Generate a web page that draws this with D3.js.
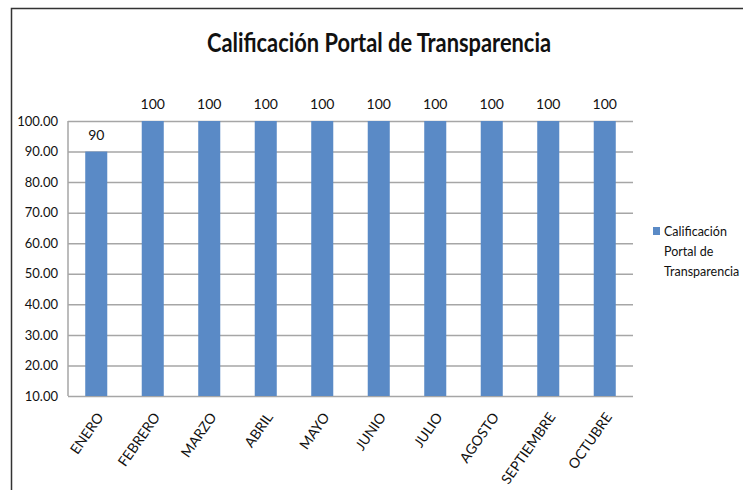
<!DOCTYPE html>
<html>
<head>
<meta charset="utf-8">
<script src="https://cdn.jsdelivr.net/npm/d3@7"></script>
<style>
  body { margin: 0; background: #fff; }
  svg text { font-family: Lato, "Open Sans", sans-serif; fill: #111; }
</style>
</head>
<body>
<svg id="chart" width="743" height="490"></svg>
<script>
// data
let months = ["ENERO", "FEBRERO", "MARZO", "ABRIL", "MAYO", "JUNIO", "JULIO", "AGOSTO", "SEPTIEMBRE", "OCTUBRE"];
let scores = [90, 100, 100, 100, 100, 100, 100, 100, 100, 100];
let yTicks = [10, 20, 30, 40, 50, 60, 70, 80, 90, 100];
let legendLines = ["Calificación", "Portal de", "Transparencia"];

let margin = {top: 121, right: 110, bottom: 94, left: 68},
    width = 743 - margin.left - margin.right,
    height = 490 - margin.top - margin.bottom;

let svg = d3.select("#chart");

// outer frame (only top and left edges show)
svg.append("path")
    .attr("d", "M11.5,490 L11.5,8.5 L743,8.5")
    .attr("fill", "none")
    .attr("stroke", "#333")
    .attr("stroke-width", 1.5);

svg.append("text")
    .attr("x", 379)
    .attr("y", 52)
    .attr("text-anchor", "middle")
    .attr("textLength", 344)
    .attr("lengthAdjust", "spacingAndGlyphs")
    .style("font-size", "26px")
    .style("font-weight", "bold")
    .text("Calificación Portal de Transparencia");

let g = svg.append("g")
    .attr("transform", "translate(" + margin.left + "," + margin.top + ")");

let x = d3.scaleBand().domain(months).range([0, width]).paddingInner(0.61).paddingOuter(0.305);
let y = d3.scaleLinear().domain([10, 100]).range([height, 0]);

// gridlines + y axis
g.append("g")
    .call(d3.axisLeft(y).tickValues(yTicks).tickSize(-width).tickFormat(d3.format(".2f")))
    .call(a => a.select(".domain").remove())
    .call(a => a.selectAll("line").attr("stroke", "#a6a6a6").attr("stroke-width", 1.5))
    .call(a => a.selectAll("text").attr("x", -10).style("font-size", "13px").style("fill", "#111"));

g.append("line")
    .attr("x1", 0).attr("x2", 0)
    .attr("y1", 0).attr("y2", height)
    .attr("stroke", "#a6a6a6").attr("stroke-width", 1.5);

// bars
g.selectAll(".bar")
    .data(scores)
    .join("rect")
    .attr("class", "bar")
    .attr("x", (d, i) => x(months[i]))
    .attr("width", x.bandwidth())
    .attr("y", d => y(d))
    .attr("height", d => height - y(d))
    .attr("fill", "#5a8ac6");

// value labels
g.selectAll(".val")
    .data(scores)
    .join("text")
    .attr("class", "val")
    .attr("x", (d, i) => x(months[i]) + x.bandwidth() / 2)
    .attr("y", d => y(d) - 12)
    .attr("text-anchor", "middle")
    .style("font-size", "14px")
    .text(d => d);

// x axis labels, rotated
g.append("g")
    .attr("transform", "translate(0," + height + ")")
    .call(d3.axisBottom(x).tickSize(0))
    .call(a => a.select(".domain").remove())
    .selectAll("text")
      .attr("y", 0)
      .attr("dy", 0)
      .style("text-anchor", "end")
      .style("font-size", "14px")
      .style("fill", "#111")
      .attr("transform", "translate(8,21) rotate(-55)");

// legend
let legend = svg.append("g").attr("transform", "translate(653,227)");
legend.append("rect")
    .attr("width", 7).attr("height", 8)
    .attr("fill", "#5a8ac6");
legend.selectAll("text")
    .data(legendLines)
    .join("text")
    .attr("x", 11)
    .attr("y", (d, i) => 9 + i * 20)
    .style("font-size", "12.5px")
    .text(d => d);
</script>
</body>
</html>
